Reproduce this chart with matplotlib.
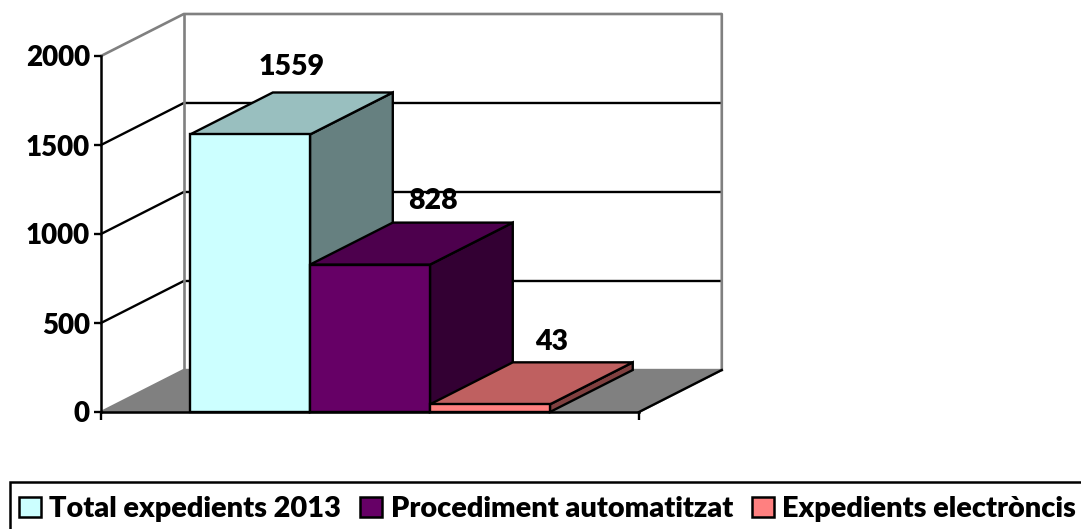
import matplotlib
matplotlib.use("Agg")
import matplotlib.pyplot as plt
from matplotlib.patches import Polygon, Patch, Rectangle

plt.rcParams['font.family'] = ['Lato', 'DejaVu Sans']
plt.rcParams['font.weight'] = 'heavy'

series = ["Total expedients 2013", "Procediment automatitzat", "Expedients electròncis"]
values = [1559, 828, 43]
y_ticks = [0, 500, 1000, 1500, 2000]
front_colors = ["#CCFFFF", "#660066", "#FF8080"]
top_colors = ["#99BFBF", "#4D004D", "#BF6060"]
side_colors = ["#668080", "#330033", "#804040"]

# 3d look, in data units
depth_x = 0.69
depth_y = 236
label_dx = [0.35, 0.525, 0.517]
label_dy = [146, 124, 112]
x_left, x_right = -1.242, 3.242
y_max = 2000

W, H = 1081, 529
fig = plt.figure(figsize=(W / 100, H / 100), dpi=100)
ax = fig.add_axes([101 / W, (H - 412) / H, 538 / W, 356 / H])
ax.patch.set_alpha(0)
ax.set_xlim(x_left, x_right)
ax.set_ylim(0, y_max)


def poly(points, color, edge=None, z=2):
    ax.add_patch(Polygon(points, closed=True, facecolor=color, edgecolor=edge or color,
                         linewidth=1.7, joinstyle='miter', clip_on=False, zorder=z))


# floor
poly([(x_left, 0), (x_left + depth_x, depth_y), (x_right + depth_x, depth_y), (x_right, 0)], "#808080", z=1)
ax.plot([x_right, x_right + depth_x], [0, depth_y], color="black", lw=1.7, clip_on=False, zorder=1.5)

# gridlines on the side and back walls
for t in y_ticks[1:-1]:
    ax.plot([x_left, x_left + depth_x, x_right + depth_x], [t, t + depth_y, t + depth_y],
            color="black", lw=1.7, clip_on=False, zorder=1.2)

# wall outline
ax.plot([x_left, x_left + depth_x, x_right + depth_x, x_right + depth_x],
        [y_max, y_max + depth_y, y_max + depth_y, depth_y],
        color="#808080", lw=1.9, clip_on=False, zorder=1.3)
ax.plot([x_left + depth_x, x_left + depth_x], [depth_y, y_max + depth_y],
        color="#808080", lw=1.9, clip_on=False, zorder=1.3)

# bars, back to front so the edges overlap the same way
for i, v in enumerate(values):
    x0, x1 = i - 0.5, i + 0.5
    poly([(x1, 0), (x1 + depth_x, depth_y), (x1 + depth_x, v + depth_y), (x1, v)], side_colors[i], "black", 3 + i)
    poly([(x0, v), (x0 + depth_x, v + depth_y), (x1 + depth_x, v + depth_y), (x1, v)], top_colors[i], "black", 3 + i)
    poly([(x0, 0), (x1, 0), (x1, v), (x0, v)], front_colors[i], "black", 3 + i)
    ax.text(i + label_dx[i], v + depth_y + label_dy[i], str(v), ha='center', va='center',
            fontsize=20.5, fontweight='heavy', color="black", zorder=10)

ax.set_yticks(y_ticks)
ax.set_xticks([x_left, x_right])
ax.set_xticklabels([])
ax.tick_params(axis='y', labelsize=20, length=5, width=1.7, pad=3)
ax.tick_params(axis='x', length=6, width=1.7)
for s in ['top', 'right']:
    ax.spines[s].set_visible(False)
for s in ['left', 'bottom']:
    ax.spines[s].set_linewidth(1.8)
    ax.spines[s].set_zorder(9)

# legend box runs off the right and bottom of the picture
fig.add_artist(Rectangle((9.5 / W, -0.05), 1.1, (H - 482) / H + 0.05, transform=fig.transFigure,
                         facecolor="white", edgecolor="black", linewidth=1.8, zorder=0))
handles = [Patch(facecolor=c, edgecolor="black", linewidth=1.8) for c in front_colors]
leg = fig.legend(handles, series, ncol=3, frameon=False, fontsize=20.8, loc='center left',
                 bbox_to_anchor=(19 / W, (H - 509) / H), borderaxespad=0, borderpad=0,
                 handlelength=0.75, handleheight=0.72, handletextpad=0.3, columnspacing=0.66)

fig.savefig("out.png", dpi=100)
